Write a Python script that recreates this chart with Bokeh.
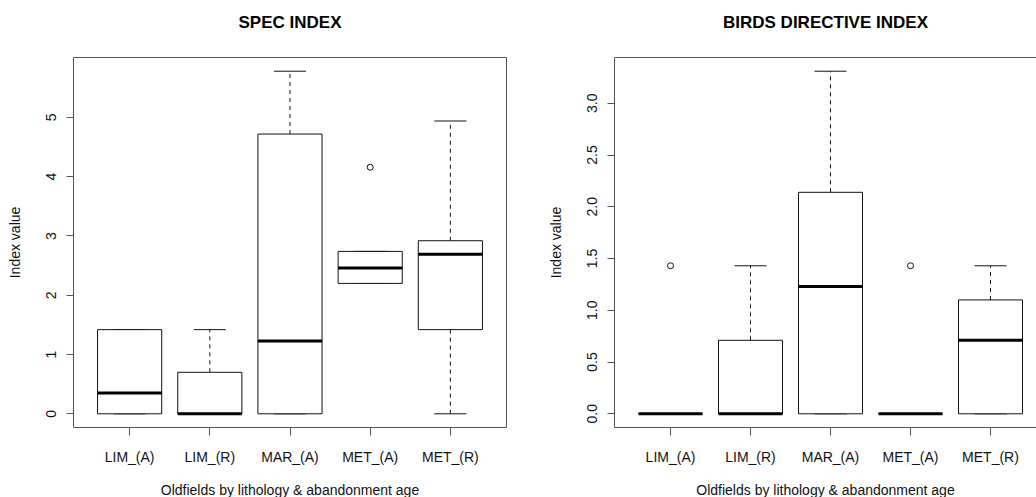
from bokeh.plotting import figure
from bokeh.layouts import row
from bokeh.models import (Range1d, FixedTicker, LinearAxis, NumeralTickFormatter,
                          ColumnDataSource)
from bokeh.embed import file_html
from bokeh.resources import INLINE

# Groups: oldfields by lithology and abandonment age
categories = ["LIM_(A)", "LIM_(R)", "MAR_(A)", "MET_(A)", "MET_(R)"]

# SPEC index: five-number summaries per group
spec_lower = [0.0, 0.0, 0.0, 2.20, 0.0]
spec_q1 = [0.0, 0.0, 0.0, 2.20, 1.42]
spec_median = [0.35, 0.0, 1.23, 2.46, 2.69]
spec_q3 = [1.42, 0.70, 4.72, 2.74, 2.92]
spec_upper = [1.42, 1.42, 5.78, 2.74, 4.94]
spec_outlier_group = ["MET_(A)"]
spec_outlier_value = [4.16]
spec_ticks = [0, 1, 2, 3, 4, 5]

# Birds Directive index
birds_lower = [0.0, 0.0, 0.0, 0.0, 0.0]
birds_q1 = [0.0, 0.0, 0.0, 0.0, 0.0]
birds_median = [0.0, 0.0, 1.23, 0.0, 0.71]
birds_q3 = [0.0, 0.71, 2.14, 0.0, 1.10]
birds_upper = [0.0, 1.43, 3.31, 0.0, 1.43]
birds_outlier_group = ["LIM_(A)", "MET_(A)"]
birds_outlier_value = [1.43, 1.43]
birds_ticks = [0.0, 0.5, 1.0, 1.5, 2.0, 2.5, 3.0]

FONT = "Liberation Sans"
FRAME = "#555555"
INK = "#111111"


def boxplot_panel(title, lower, q1, med, q3, upper, out_group, out_val,
                  yticks, yfmt, x_end, border_left, frame_w, border_right):
    n = len(categories)
    pos = list(range(1, n + 1))
    x_start = 0.5 - 0.04 * n
    lo_all = min(lower + out_val)
    hi_all = max(upper + out_val)
    pad = 0.04 * (hi_all - lo_all)

    p = figure(frame_width=frame_w, frame_height=370,
               min_border_left=border_left, min_border_right=border_right,
               min_border_top=57, min_border_bottom=70,
               x_range=Range1d(x_start, x_end),
               y_range=Range1d(lo_all - pad, hi_all + pad),
               output_backend="svg", toolbar_location=None,
               x_axis_location=None, y_axis_location=None)
    p.outline_line_color = None
    p.grid.visible = False
    p.background_fill_color = "white"
    p.border_fill_color = "white"

    src = ColumnDataSource(dict(
        x=pos, lower=lower, q1=q1, med=med, q3=q3, upper=upper,
        bl=[v - 0.4 for v in pos], br=[v + 0.4 for v in pos],
        cl=[v - 0.2 for v in pos], cr=[v + 0.2 for v in pos]))

    # dashed whiskers
    p.segment(x0="x", y0="q3", x1="x", y1="upper", source=src,
              line_color=INK, line_width=1, line_dash="4 4")
    p.segment(x0="x", y0="q1", x1="x", y1="lower", source=src,
              line_color=INK, line_width=1, line_dash="4 4")
    # staples
    p.segment(x0="cl", y0="upper", x1="cr", y1="upper", source=src,
              line_color=INK, line_width=1)
    p.segment(x0="cl", y0="lower", x1="cr", y1="lower", source=src,
              line_color=INK, line_width=1)
    # boxes
    p.quad(left="bl", right="br", bottom="q1", top="q3", source=src,
           fill_color="white", line_color=INK, line_width=1)
    # medians
    p.segment(x0="bl", y0="med", x1="br", y1="med", source=src,
              line_color="black", line_width=3, line_cap="butt")
    # outliers
    ox = [categories.index(g) + 1 for g in out_group]
    p.scatter(ox, out_val, marker="circle", size=6, fill_color=None,
              line_color=INK, line_width=1)

    xaxis = LinearAxis(ticker=FixedTicker(ticks=pos),
                       major_label_overrides={i + 1: c for i, c in enumerate(categories)},
                       axis_label="Oldfields by lithology & abandonment age")
    yaxis = LinearAxis(ticker=FixedTicker(ticks=yticks),
                       formatter=NumeralTickFormatter(format=yfmt),
                       axis_label="Index value",
                       major_label_orientation="vertical")
    # top edge of the box, carrying the panel title
    top = LinearAxis(ticker=FixedTicker(ticks=[]),
                     major_label_text_font_size="0px", axis_label=title)
    for ax in (xaxis, yaxis, top):
        ax.axis_line_color = FRAME
        ax.axis_line_width = 1
        ax.major_tick_line_color = FRAME
        ax.major_tick_in = 0
        ax.minor_tick_line_color = None
        ax.major_label_text_font = FONT
        ax.major_label_text_font_size = "14px"
        ax.major_label_text_color = INK
        ax.axis_label_text_font = FONT
        ax.axis_label_text_font_size = "14px"
        ax.axis_label_text_font_style = "normal"
        ax.axis_label_text_color = INK
    xaxis.major_tick_out = 8
    xaxis.major_label_standoff = 13
    xaxis.axis_label_standoff = 14
    yaxis.major_tick_out = 7
    yaxis.major_label_standoff = 10
    yaxis.axis_label_standoff = 21
    top.major_tick_out = 0
    top.major_label_standoff = 0
    top.axis_label_standoff = 26
    top.axis_label_text_font_size = "17px"
    top.axis_label_text_font_style = "bold"
    top.axis_label_text_color = "black"
    p.add_layout(xaxis, "below")
    p.add_layout(yaxis, "left")
    p.add_layout(top, "above")
    if border_right > 0:
        rgt = LinearAxis(ticker=FixedTicker(ticks=[]), major_label_text_font_size="0px",
                         axis_line_color=FRAME, major_tick_out=0, major_tick_in=0)
        p.add_layout(rgt, "right")
    return p


p1 = boxplot_panel("SPEC INDEX", spec_lower, spec_q1, spec_median, spec_q3,
                   spec_upper, spec_outlier_group, spec_outlier_value,
                   spec_ticks, "0", 5.7, 73, 433, 14)
p2 = boxplot_panel("BIRDS DIRECTIVE INDEX", birds_lower, birds_q1, birds_median,
                   birds_q3, birds_upper, birds_outlier_group, birds_outlier_value,
                   birds_ticks, "0.0", 0.3 + 422 / 80, 94, 422, 0)

layout = row(p1, p2, spacing=0)
open("out.html", "w").write(file_html(layout, INLINE))
